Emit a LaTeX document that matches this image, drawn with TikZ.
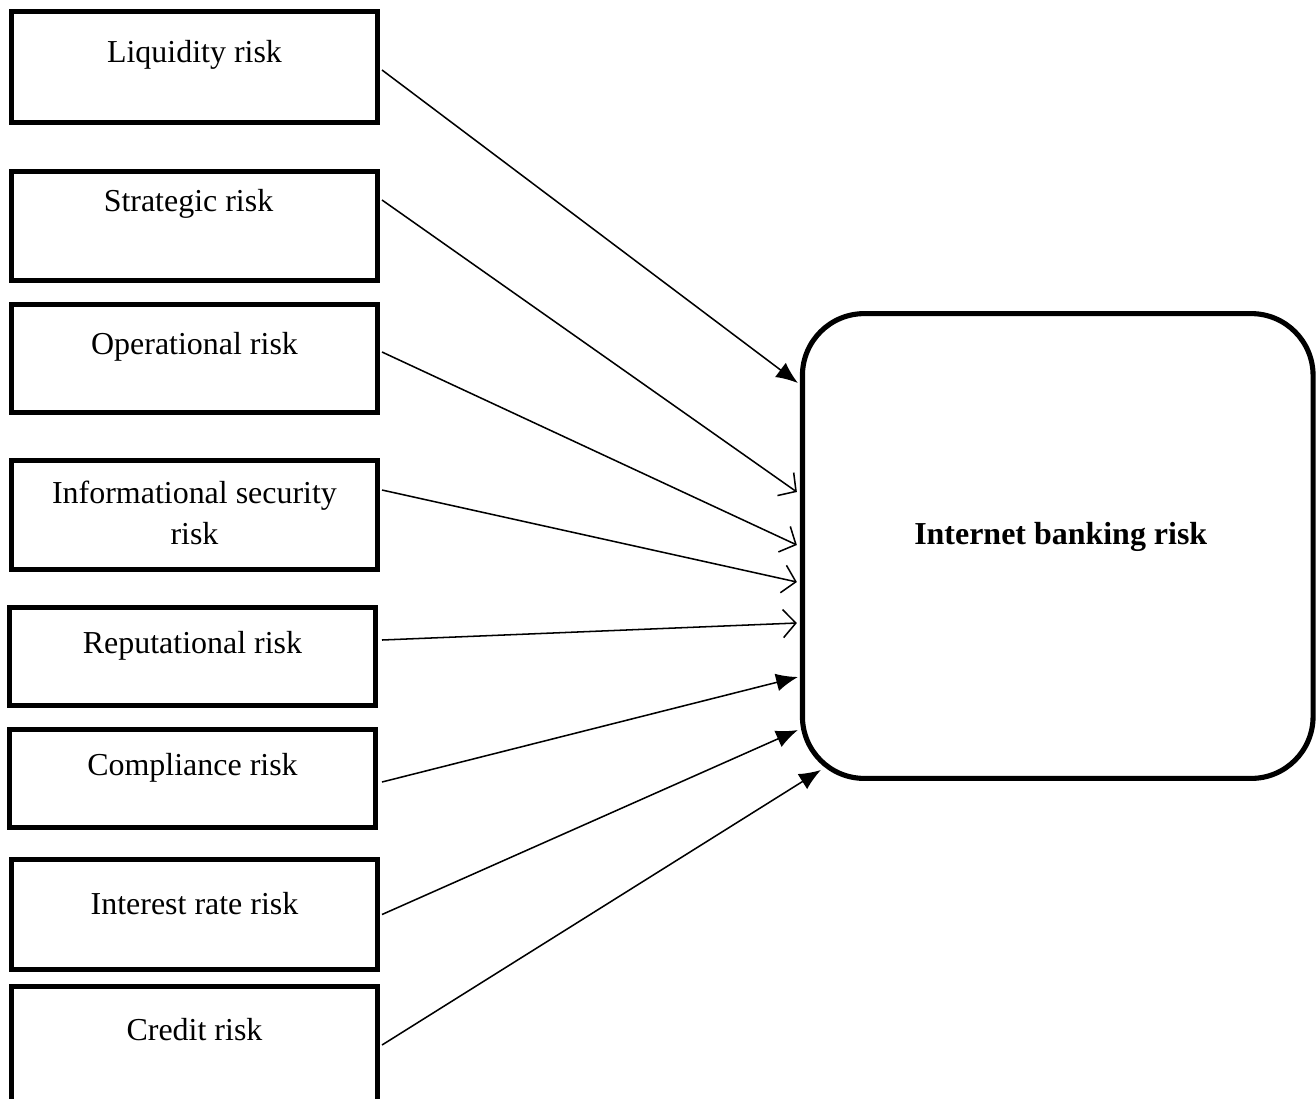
\documentclass[tikz,border=0pt]{standalone}
\usepackage{fontspec}
\setmainfont{Liberation Serif}
\usetikzlibrary{positioning}
\usetikzlibrary{calc}
\usetikzlibrary{arrows.meta}
\tikzset{
    x=0.01375cm, y=-0.01375cm,
    riskbox/.style={
        draw,
        line width=2pt,
        minimum width=5.03cm,
        inner sep=0pt
    },
    risktext/.style={
        font=\fontsize{12.5pt}{16pt}\selectfont,
        align=center,
        inner sep=0pt
    },
    bigbox/.style={
        draw,
        line width=2pt,
        rounded corners=0.85cm,
        minimum width=7.02cm,
        minimum height=6.39cm,
        inner sep=0pt
    },
    full/.style={
        draw,
        line width=0.6pt,
        -{Latex[length=8.5pt,width=7pt]}
    },
    open/.style={
        draw,
        line width=0.6pt,
        -{Straight Barb[length=5pt,width=11pt,line width=0.6pt]}
    }
}

\begin{document}
\begin{tikzpicture}
    \useasboundingbox (0,0) rectangle (1316,1098);

    % risk boxes on the left
    \node[riskbox, minimum height=1.53cm] (liq) at (194.5,67) {};
    \node[riskbox, minimum height=1.50cm] (strat) at (194.5,226) {};
    \node[riskbox, minimum height=1.49cm] (oper) at (194.5,358.5) {};
    \node[riskbox, minimum height=1.50cm] (info) at (194.5,515) {};
    \node[riskbox, minimum height=1.35cm] (rep) at (192.5,656.5) {};
    \node[riskbox, minimum height=1.35cm] (comp) at (192.5,778.5) {};
    \node[riskbox, minimum height=1.51cm] (intr) at (194.5,914.5) {};
    \node[riskbox, minimum height=1.60cm] (cred) at (194.5,1045) {};

    \node[risktext] (liqtxt) at ($(liq.north)+(0,46.5)$) {Liquidity risk};
    \node[risktext] (strattxt) at ($(strat.north)+(-6,34.5)$) {Strategic risk};
    \node[risktext] (opertxt) at ($(oper.north)+(0,45.5)$) {Operational risk};
    \node[risktext] (infotxt) at ($(info.north)+(0,55)$) {Informational security\\risk};
    \node[risktext] (reptxt) at ($(rep.north)+(0,40.5)$) {Reputational risk};
    \node[risktext] (comptxt) at ($(comp.north)+(0,40.5)$) {Compliance risk};
    \node[risktext] (intrtxt) at ($(intr.north)+(0,46.5)$) {Interest rate risk};
    \node[risktext] (credtxt) at ($(cred.north)+(0,45.5)$) {Credit risk};

    % target
    \node[bigbox] (net) at (1057.75,546) {};
    \node[risktext, font=\fontsize{12.5pt}{16pt}\selectfont\bfseries] (nettxt) at ($(net.center)+(3,-9)$) {Internet banking risk};

    % arrows
    \draw[full] ($(liq.east)+(2,3)$) -- ($(net.west)+(-2,-163)$);
    \draw[open] ($(strat.east)+(2,-26)$) -- ($(net.west)+(-3,-54)$);
    \draw[open] ($(oper.east)+(2,-6.5)$) -- ($(net.west)+(-3,-1)$);
    \draw[open] ($(info.east)+(2,-25)$) -- ($(net.west)+(-3,36)$);
    \draw[open] ($(rep.east)+(4,-16.5)$) -- ($(net.west)+(-3,77)$);
    \draw[full] ($(comp.east)+(4,3.5)$) -- ($(net.west)+(-2,131)$);
    \draw[full] ($(intr.east)+(2,0)$) -- ($(net.west)+(-2,184)$);
    \draw[full] ($(cred.east)+(2,0)$) -- ($(net.west)+(21,224)$);
\end{tikzpicture}
\end{document}
